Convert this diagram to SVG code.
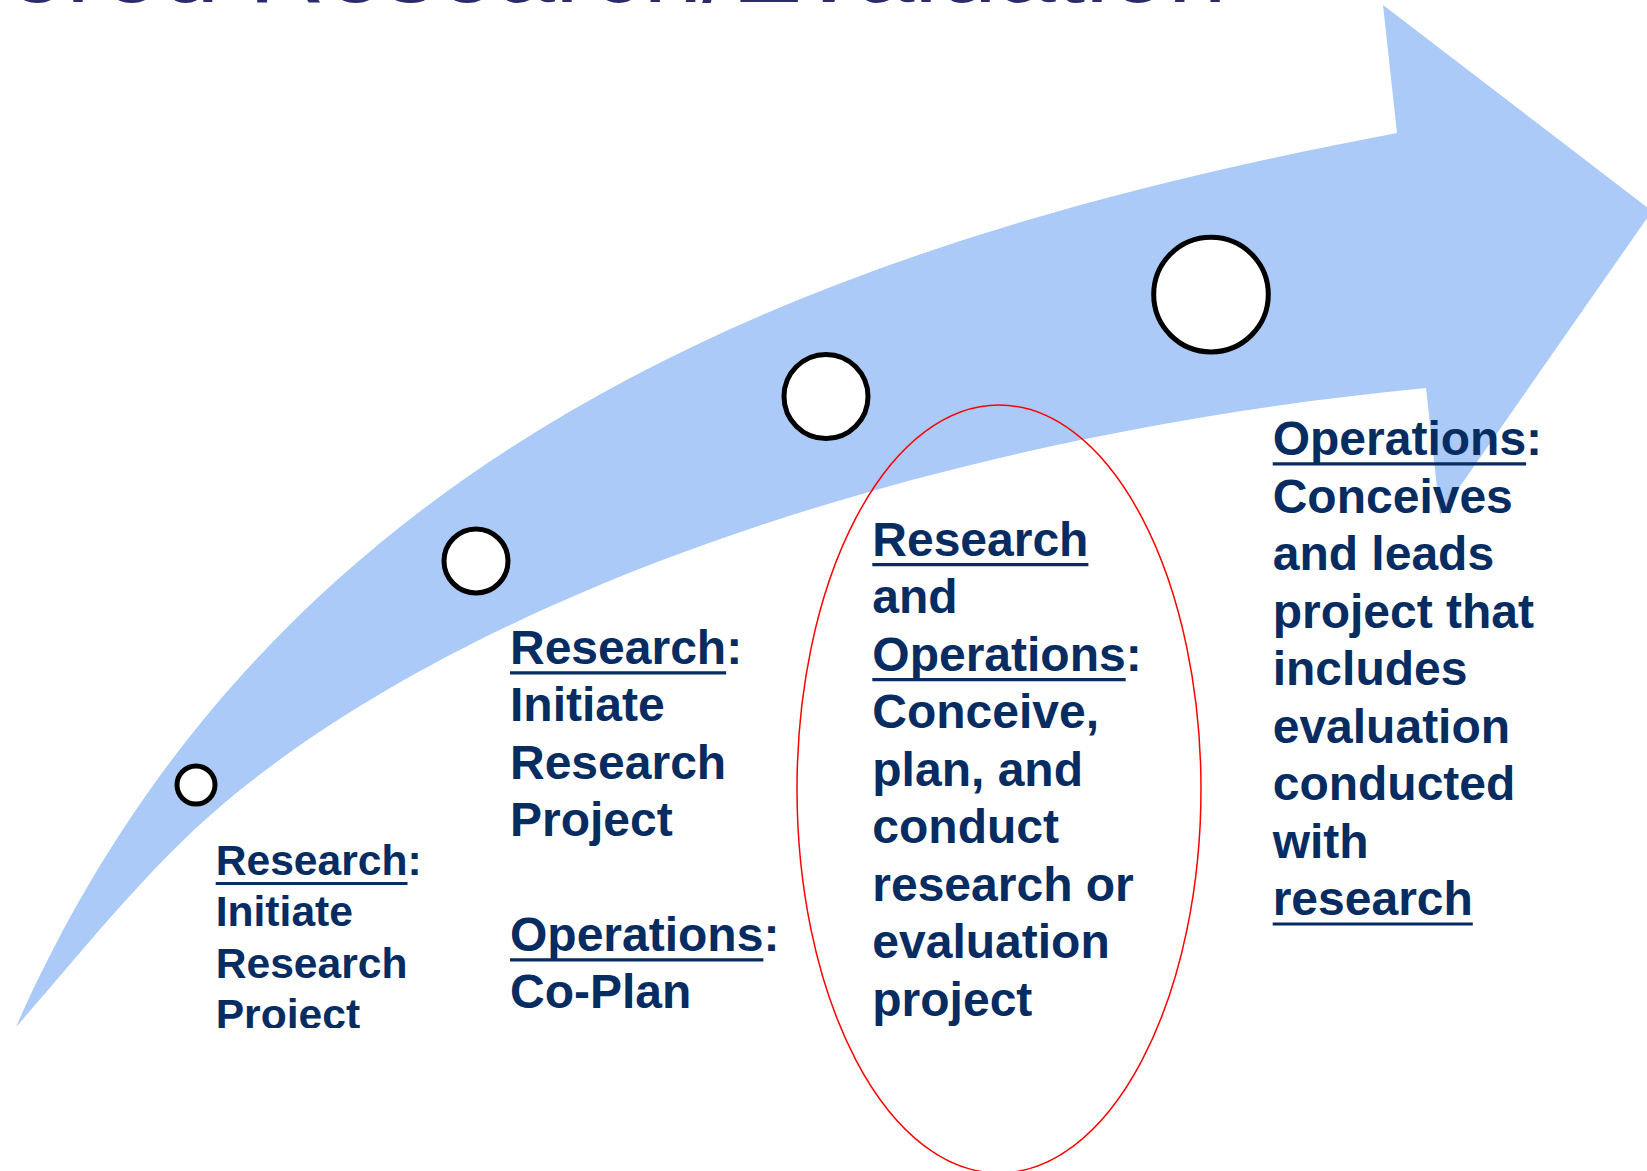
<svg xmlns="http://www.w3.org/2000/svg" width="1647" height="1171" viewBox="0 0 1647 1171">
<defs>
<style>
.t{font-family:"Liberation Sans",Arial,sans-serif;font-weight:bold;fill:#072c62}
.f48{font-size:48px}
.f43{font-size:42.6px}
.ul{stroke:#072c62;stroke-width:3.2}
.dot{fill:#ffffff;stroke:#000000;stroke-width:5}
.title{font-family:"Liberation Sans",Arial,sans-serif;font-size:106px;fill:#2b2b6b}
</style>
<clipPath id="clip1"><rect x="150" y="800" width="300" height="228"/></clipPath>
</defs>
<rect width="1647" height="1171" fill="#ffffff"/>
<g id="title"><text class="title" x="7" y="2">ered Research/Evaluation</text></g>
<g id="connectors">
<path id="arrow" fill="#abcaf7" d="M16,1027 C266.5,459.7 787.5,247.7 1397,133 L1383,5 L1652,211 L1440,515 L1426,388 C978,430.7 513.4,571.2 240,790 C154.9,858.1 88,945.2 16,1027 Z"/>
</g>
<g id="step1">
<circle class="dot" cx="196" cy="785" r="19"/>
<g clip-path="url(#clip1)">
<text class="t f43" x="215.7" y="875">Research:</text>
<text class="t f43" x="215.7" y="926.3">Initiate</text>
<text class="t f43" x="215.7" y="977.6">Research</text>
<text class="t f43" x="215.7" y="1028.9">Project</text>
</g>
<line class="ul" x1="215.7" y1="883.5" x2="407.5" y2="883.5"/>
</g>
<g id="step2">
<circle class="dot" cx="476" cy="561" r="32"/>
<text class="t f48" x="510" y="664">Research:</text>
<text class="t f48" x="510" y="721.4">Initiate</text>
<text class="t f48" x="510" y="778.8">Research</text>
<text class="t f48" x="510" y="836.2">Project</text>
<text class="t f48" x="510" y="951">Operations:</text>
<text class="t f48" x="510" y="1008.4">Co-Plan</text>
<line class="ul" x1="510" y1="672.8" x2="726.1" y2="672.8"/>
<line class="ul" x1="510" y1="959.8" x2="763.4" y2="959.8"/>
</g>
<g id="step3">
<circle class="dot" cx="826" cy="396.5" r="42"/>
<ellipse cx="999" cy="789" rx="202" ry="384" fill="none" stroke="#ff0000" stroke-width="1.5"/>
<text class="t f48" x="872.3" y="555.8">Research</text>
<text class="t f48" x="872.3" y="613.3">and</text>
<text class="t f48" x="872.3" y="670.8">Operations:</text>
<text class="t f48" x="872.3" y="728.3">Conceive,</text>
<text class="t f48" x="872.3" y="785.8">plan, and</text>
<text class="t f48" x="872.3" y="843.3">conduct</text>
<text class="t f48" x="872.3" y="900.8">research or</text>
<text class="t f48" x="872.3" y="958.3">evaluation</text>
<text class="t f48" x="872.3" y="1015.8">project</text>
<line class="ul" x1="872.3" y1="564.6" x2="1088.4" y2="564.6"/>
<line class="ul" x1="872.3" y1="679.6" x2="1125.7" y2="679.6"/>
</g>
<g id="step4">
<circle class="dot" cx="1211" cy="294.6" r="57.3"/>
<text class="t f48" x="1272.7" y="455">Operations:</text>
<text class="t f48" x="1272.7" y="512.5">Conceives</text>
<text class="t f48" x="1272.7" y="570">and leads</text>
<text class="t f48" x="1272.7" y="627.5">project that</text>
<text class="t f48" x="1272.7" y="685">includes</text>
<text class="t f48" x="1272.7" y="742.5">evaluation</text>
<text class="t f48" x="1272.7" y="800">conducted</text>
<text class="t f48" x="1272.7" y="857.5">with</text>
<text class="t f48" x="1272.7" y="915">research</text>
<line class="ul" x1="1272.7" y1="463.8" x2="1526.1" y2="463.8"/>
<line class="ul" x1="1272.7" y1="924" x2="1472.8" y2="924"/>
</g>
</svg>
